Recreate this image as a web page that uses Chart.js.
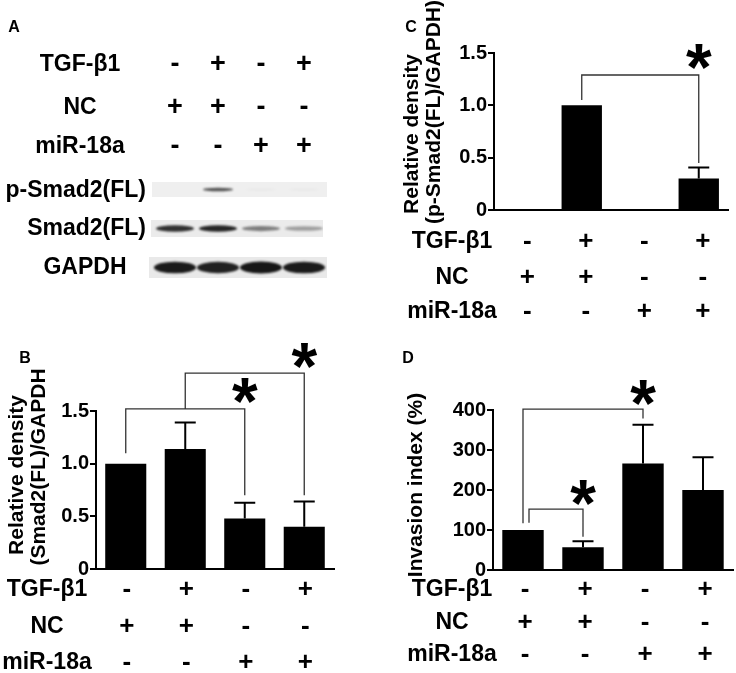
<!DOCTYPE html>
<html>
<head>
<meta charset="utf-8">
<script src="https://cdn.jsdelivr.net/npm/chart.js@4.4.1/dist/chart.umd.min.js"></script>
<style>
  body { margin: 0; background: #fff; }
  #fig { position: relative; width: 736px; height: 673px; overflow: hidden; }
  #fig canvas { position: absolute; }
</style>
</head>
<body>
<div id="fig">
  <canvas id="blot" width="368" height="330" style="left:0;top:0"></canvas>
  <canvas id="chartB" width="368" height="343" style="left:0;top:330px"></canvas>
  <canvas id="chartC" width="368" height="330" style="left:368px;top:0"></canvas>
  <canvas id="chartD" width="368" height="343" style="left:368px;top:330px"></canvas>
</div>
<script>
// groups (same four lanes everywhere)
var groups = ["G1", "G2", "G3", "G4"];
var rowNames = ["TGF-\u03b21", "NC", "miR-18a"];
var tgfRow = ["-", "+", "-", "+"];
var ncRow = ["+", "+", "-", "-"];
var mirRow = ["-", "-", "+", "+"];

// B: Smad2(FL)/GAPDH
var smadDensity = [1.0, 1.14, 0.48, 0.40];
var smadError = [0, 0.25, 0.15, 0.24];
var smadTicks = [0, 0.5, 1.0, 1.5];

// C: p-Smad2(FL)/GAPDH
var pSmadDensity = [0, 1.0, 0, 0.30];
var pSmadError = [0, 0, 0, 0.105];
var pSmadTicks = [0, 0.5, 1.0, 1.5];

// D: invasion index
var invasionIndex = [100, 57, 266, 200];
var invasionError = [0, 15, 97, 82];
var invasionTicks = [0, 100, 200, 300, 400];

// blot band strength per lane
var pSmadBand = [0, 0.7, 0.03, 0.03];
var smadBand = [0.85, 0.9, 0.5, 0.35];
var gapdhBand = [0.95, 0.92, 0.97, 0.95];

// significance brackets (data units)
var smadBrackets = [
    { from: 0, to: 2, top: 1.52, left: 1.10, right: 0.70, star: 1.67 },
    { from: 1, to: 3, top: 1.86, left: 1.52, right: 0.70, star: 2.0 }
];
var pSmadBrackets = [
    { from: 1, to: 3, top: 1.29, left: 1.05, right: 0.45, star: 1.44 }
];
var invasionBrackets = [
    { from: 0, to: 2, top: 402, left: 117, right: 379, star: 437 },
    { from: 0.1, to: 1, top: 152, left: 118, right: 83, star: 187 }
];

var FONT = '"Liberation Sans", Arial, sans-serif';

function drawText(ctx, s, x, y, size, align, rotate) {
    ctx.save();
    ctx.translate(x, y);
    if (rotate) ctx.rotate(-Math.PI / 2);
    ctx.font = "bold " + size + "px " + FONT;
    ctx.fillStyle = "#000";
    ctx.textAlign = align || "center";
    ctx.textBaseline = "middle";
    ctx.fillText(s, 0, 0);
    ctx.restore();
}

var panelDecor = {
    id: "panelDecor",
    afterDatasetsDraw: function(chart, args, opts) {
        var ctx = chart.ctx, xs = chart.scales.x, ys = chart.scales.y;
        var meta = chart.getDatasetMeta(0);
        var vals = chart.data.datasets[0].data;
        ctx.save();
        // error bars
        ctx.strokeStyle = "#000";
        ctx.lineWidth = 2;
        opts.errors.forEach(function(e, i) {
            if (!e) return;
            var x = meta.data[i].x;
            var y0 = ys.getPixelForValue(vals[i]);
            var y1 = ys.getPixelForValue(vals[i] + e);
            ctx.beginPath();
            ctx.moveTo(x, y0); ctx.lineTo(x, y1);
            ctx.moveTo(x - 10.5, y1); ctx.lineTo(x + 10.5, y1);
            ctx.stroke();
        });
        // brackets + stars
        opts.brackets.forEach(function(b) {
            var xa = xs.getPixelForValue(b.from), xb = xs.getPixelForValue(b.to);
            var yt = ys.getPixelForValue(b.top);
            ctx.strokeStyle = "#333";
            ctx.lineWidth = 1.3;
            ctx.beginPath();
            ctx.moveTo(xa, ys.getPixelForValue(b.left));
            ctx.lineTo(xa, yt);
            ctx.lineTo(xb, yt);
            ctx.lineTo(xb, ys.getPixelForValue(b.right));
            ctx.stroke();
            ctx.fillStyle = "#000";
            ctx.font = "bold 66px " + FONT;
            ctx.textAlign = "center";
            ctx.textBaseline = "alphabetic";
            ctx.fillText("*", xb, ys.getPixelForValue(b.star) + 0.47 * 66);
        });
        ctx.restore();
    },
    afterDraw: function(chart, args, opts) {
        var ctx = chart.ctx, xs = chart.scales.x;
        drawText(ctx, opts.letter, opts.letterX, opts.letterY, 16, "center");
        opts.titles.forEach(function(t) {
            drawText(ctx, t.text, t.x, t.y, 21, "center", true);
        });
        var rows = [tgfRow, ncRow, mirRow];
        rows.forEach(function(row, r) {
            drawText(ctx, rowNames[r], opts.rowX, opts.rowY[r], 23, "center");
            row.forEach(function(s, i) {
                drawText(ctx, s, xs.getPixelForValue(i) + opts.signShift, opts.rowY[r], 26, "center");
            });
        });
    }
};

function makeChart(id, values, ticks, axisLeft, pad, decor) {
    return new Chart(document.getElementById(id), {
        type: "bar",
        data: {
            labels: groups,
            datasets: [{
                data: values,
                backgroundColor: "#000",
                borderWidth: 0,
                categoryPercentage: 1,
                barPercentage: 0.69
            }]
        },
        plugins: [panelDecor],
        options: {
            responsive: false,
            animation: false,
            layout: { padding: pad },
            plugins: {
                legend: { display: false },
                tooltip: { enabled: false },
                panelDecor: decor
            },
            scales: {
                x: {
                    offset: true,
                    grid: { display: false },
                    border: { color: "#000", width: 2 },
                    ticks: { display: false },
                    afterFit: function(s) { s.height = 0; }
                },
                y: {
                    min: ticks[0],
                    max: ticks[ticks.length - 1],
                    afterBuildTicks: function(s) {
                        s.ticks = ticks.map(function(v) { return { value: v }; });
                    },
                    grid: { drawOnChartArea: false, tickLength: 6, color: "#000", lineWidth: 2 },
                    border: { color: "#000", width: 2 },
                    ticks: {
                        padding: 1,
                        color: "#000",
                        font: { family: FONT, size: 20, weight: "bold" },
                        callback: function(v) {
                            if (v === 0) return "0";
                            return ticks[ticks.length - 1] < 10 ? v.toFixed(1) : String(v);
                        }
                    },
                    afterFit: function(s) { s.width = axisLeft; }
                }
            }
        }
    });
}

makeChart("chartB", smadDensity, smadTicks, 96, { left: 0, right: 34, top: 81, bottom: 104 }, {
    letter: "B", letterX: 25, letterY: 29,
    titles: [
        { text: "Relative density", x: 17, y: 145 },
        { text: "(Smad2(FL)/GAPDH", x: 39, y: 137 }
    ],
    rowX: 47, rowY: [260, 297, 333], signShift: 1,
    errors: smadError, brackets: smadBrackets
});

makeChart("chartC", pSmadDensity, pSmadTicks, 126, { left: 0, right: 8, top: 53, bottom: 120 }, {
    letter: "C", letterX: 43, letterY: 28,
    titles: [
        { text: "Relative density", x: 44, y: 134 },
        { text: "(p-Smad2(FL)/GAPDH)", x: 66, y: 112 }
    ],
    rowX: 84, rowY: [242, 278, 312], signShift: 4,
    errors: pSmadError, brackets: pSmadBrackets
});

makeChart("chartD", invasionIndex, invasionTicks, 125, { left: 0, right: 3, top: 80, bottom: 103 }, {
    letter: "D", letterX: 40, letterY: 29,
    titles: [
        { text: "Invasion index (%)", x: 48, y: 155 }
    ],
    rowX: 84, rowY: [260, 293, 325], signShift: 2,
    errors: invasionError, brackets: invasionBrackets
});

// Panel A: western blot
(function() {
    var ctx = document.getElementById("blot").getContext("2d");
    var laneX = [175, 218, 261, 304];
    drawText(ctx, "A", 14, 28, 16, "center");
    var rowY = [65, 108, 147];
    [tgfRow, ncRow, mirRow].forEach(function(row, r) {
        drawText(ctx, rowNames[r], 80, rowY[r], 23, "center");
        row.forEach(function(s, i) { drawText(ctx, s, laneX[i], rowY[r], 27, "center"); });
    });
    drawText(ctx, "p-Smad2(FL)", 146, 191, 23, "right");
    drawText(ctx, "Smad2(FL)", 146, 229, 23, "right");
    drawText(ctx, "GAPDH", 85, 268, 23, "center");

    function strip(x0, x1, y0, y1, bg, levels, bandH, bandW) {
        ctx.fillStyle = bg;
        ctx.fillRect(x0, y0, x1 - x0, y1 - y0);
        ctx.save();
        ctx.beginPath();
        ctx.rect(x0, y0, x1 - x0, y1 - y0);
        ctx.clip();
        ctx.filter = "blur(1.2px)";
        var yc = (y0 + y1) / 2;
        levels.forEach(function(v, i) {
            if (v <= 0) return;
            var h = bandH * (0.5 + 0.5 * v);
            ctx.fillStyle = "rgba(15,15,15," + v + ")";
            ctx.beginPath();
            ctx.ellipse(laneX[i], yc, bandW / 2, h / 2, 0, 0, Math.PI * 2);
            ctx.fill();
        });
        ctx.restore();
    }
    strip(152, 327, 182, 197, "#efefef", pSmadBand, 4, 30);
    strip(151, 323, 220, 237, "#ebebeb", smadBand, 7, 38);
    strip(149, 327, 257, 278, "#e9e9e9", gapdhBand, 12, 42);
})();
</script>
</body>
</html>
